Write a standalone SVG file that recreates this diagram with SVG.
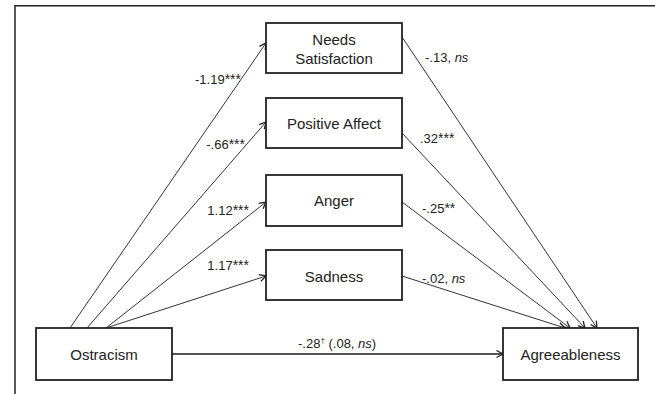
<svg xmlns="http://www.w3.org/2000/svg" width="655" height="394" viewBox="0 0 655 394">
<style>
.box{fill:#fff;stroke:#222;stroke-width:1.8}
.node{font-family:"Liberation Sans",Arial,sans-serif;font-size:15px;fill:#222;text-anchor:middle}
.lab{font-family:"Liberation Sans",Arial,sans-serif;font-size:13px;fill:#222}
.ast{font-size:14px}
.edge{fill:none;stroke:#333;stroke-width:1}
.direct{fill:none;stroke:#555;stroke-width:1.8}
.frame{fill:none;stroke:#222;stroke-width:1.5}
</style>
<defs>
<marker id="arr" markerUnits="userSpaceOnUse" markerWidth="10" markerHeight="10" refX="7" refY="4" orient="auto">
<path d="M0.5,0.5 L7,4 L0.5,7.5" fill="none" stroke="#222" stroke-width="1.3"/>
</marker>
</defs>
<rect width="655" height="394" fill="#fff"/>
<path class="frame" d="M15,394 V5.7 H655"/>
<g id="connectors">
<line class="edge" x1="70" y1="328" x2="266" y2="43" marker-end="url(#arr)"/>
<line class="edge" x1="87" y1="328" x2="266" y2="122" marker-end="url(#arr)"/>
<line class="edge" x1="106" y1="328" x2="266" y2="202" marker-end="url(#arr)"/>
<line class="edge" x1="106" y1="328" x2="266" y2="276" marker-end="url(#arr)"/>
<line class="edge" x1="402" y1="37" x2="597" y2="328" marker-end="url(#arr)"/>
<line class="edge" x1="402" y1="133" x2="585" y2="328" marker-end="url(#arr)"/>
<line class="edge" x1="402" y1="202" x2="570" y2="328" marker-end="url(#arr)"/>
<line class="edge" x1="402" y1="276" x2="565" y2="328" marker-end="url(#arr)"/>
<line class="direct" x1="172" y1="354" x2="503" y2="354" marker-end="url(#arr)"/>
<text class="lab" x="241" y="84" text-anchor="end">-1.19<tspan class="ast">***</tspan></text>
<text class="lab" x="245" y="149" text-anchor="end">-.66<tspan class="ast">***</tspan></text>
<text class="lab" x="249" y="215" text-anchor="end">1.12<tspan class="ast">***</tspan></text>
<text class="lab" x="249" y="270" text-anchor="end">1.17<tspan class="ast">***</tspan></text>
<text class="lab" x="425" y="62">-.13, <tspan font-style="italic">ns</tspan></text>
<text class="lab" x="420" y="143">.32<tspan class="ast">***</tspan></text>
<text class="lab" x="422" y="213">-.25<tspan class="ast">**</tspan></text>
<text class="lab" x="422" y="283">-.02, <tspan font-style="italic">ns</tspan></text>
<text class="lab" x="298" y="348" font-size="12.5">-.28<tspan font-size="8" dy="-5">†</tspan><tspan dy="5"> (.08, </tspan><tspan font-style="italic">ns</tspan>)</text>
</g>
<g id="needs">
<rect class="box" x="266" y="23" width="136" height="50"/>
<text class="node" x="334" y="45">Needs</text>
<text class="node" x="334" y="64">Satisfaction</text>
</g>
<g id="positive">
<rect class="box" x="266" y="98" width="136" height="50"/>
<text class="node" x="334" y="129">Positive Affect</text>
</g>
<g id="anger">
<rect class="box" x="266" y="175" width="136" height="51"/>
<text class="node" x="334" y="206">Anger</text>
</g>
<g id="sadness">
<rect class="box" x="266" y="250" width="136" height="50"/>
<text class="node" x="334" y="282">Sadness</text>
</g>
<g id="ostracism">
<rect class="box" x="36" y="328" width="136" height="52"/>
<text class="node" x="104" y="360">Ostracism</text>
</g>
<g id="agreeableness">
<rect class="box" x="503" y="328" width="135" height="52"/>
<text class="node" x="570.5" y="360">Agreeableness</text>
</g>
</svg>
